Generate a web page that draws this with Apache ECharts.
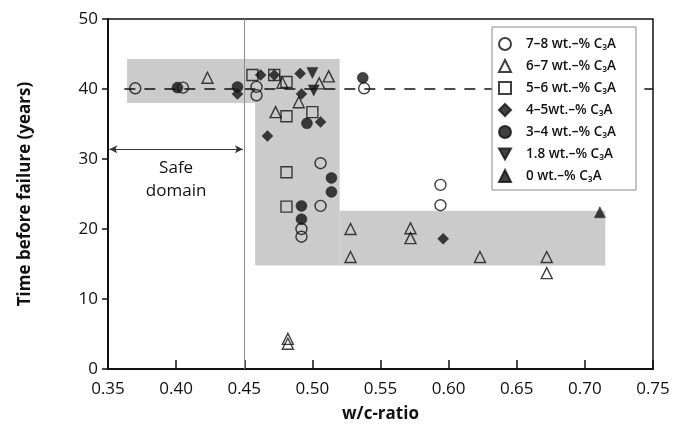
<!DOCTYPE html>
<html>
<head>
<meta charset="utf-8">
<script src="https://cdn.jsdelivr.net/npm/echarts@6/dist/echarts.min.js"></script>
<style>html,body{margin:0;padding:0;background:#fff}#c{width:674px;height:444px}</style>
</head>
<body>
<div id="c"></div>
<script>
// ---- data (w/c-ratio, years) ----
const seriesNames = ['7\u20138 wt.\u2013% C\u2083A','6\u20137 wt.\u2013% C\u2083A','5\u20136 wt.\u2013% C\u2083A','4\u20135wt.\u2013% C\u2083A','3\u20134 wt.\u2013% C\u2083A','1.8 wt.\u2013% C\u2083A','0 wt.\u2013% C\u2083A'];
const c78 = [[0.370,40.1],[0.405,40.2],[0.459,40.3],[0.459,39.1],[0.538,40.1],[0.506,29.4],[0.506,23.3],[0.492,20.0],[0.492,18.9],[0.594,26.3],[0.594,23.4]];
const c67 = [[0.423,41.6],[0.473,36.7],[0.478,40.9],[0.490,38.1],[0.505,40.8],[0.512,41.8],[0.528,20.0],[0.528,16.0],[0.572,20.1],[0.572,18.7],[0.623,16.0],[0.672,16.0],[0.672,13.7],[0.482,4.3],[0.482,3.6]];
const c56 = [[0.456,42.0],[0.472,42.0],[0.481,41.0],[0.481,36.1],[0.500,36.7],[0.481,28.1],[0.481,23.2]];
const c45 = [[0.445,39.3],[0.462,42.0],[0.472,42.0],[0.491,42.2],[0.492,39.3],[0.506,35.3],[0.467,33.3],[0.596,18.6]];
const c34 = [[0.401,40.2],[0.445,40.3],[0.496,35.1],[0.537,41.6],[0.514,27.3],[0.514,25.3],[0.492,23.3],[0.492,21.4]];
const c18 = [[0.500,42.3],[0.501,39.8]];
const c0  = [[0.711,22.4]];
// shaded regions [x1, y1, x2, y2]
const shadeBands = [[0.364,44.3,0.520,38.0],[0.458,38.0,0.520,14.8],[0.520,22.6,0.715,14.8]];
const refLine = [[0.362,40],[0.75,40]];
const safeLimit = 0.45;
const safeArrow = [[0.351,31.4],[0.449,31.4]];
const safeLabelAt = [0.400,27.1];
const xTicks = {min:0.35,max:0.75,step:0.05};
const yTicks = {min:0,max:50,step:10};

const FONT = 'Open Sans';
const INV_TRI = 'path://M0,0 L10,0 L5,9 Z';

function scat(name, data, symbol, filled, size){
  return {
    name, type:'scatter', data, symbol, symbolSize:size, z:5,
    itemStyle: filled ? {color:'#111', borderColor:'#111', borderWidth:0.5}
                      : {color:'transparent', borderColor:'#111', borderWidth:1.4},
    emphasis:{disabled:true}
  };
}

const chart = echarts.init(document.getElementById('c'), null, {renderer:'canvas'});
chart.setOption({
  animation:false,
  backgroundColor:'#fff',
  textStyle:{fontFamily:FONT},
  grid:{left:108,right:21,top:19,bottom:75,show:true,borderColor:'#111',borderWidth:1.5,backgroundColor:'transparent'},
  xAxis:{
    type:'value', min:xTicks.min, max:xTicks.max, interval:xTicks.step,
    name:'w/c-ratio', nameLocation:'middle', nameGap:37,
    nameTextStyle:{fontSize:17,fontWeight:'bold',color:'#111',fontFamily:FONT},
    axisLine:{show:true,lineStyle:{color:'#111',width:2}},
    axisTick:{show:true,inside:true,length:9,lineStyle:{color:'#111',width:1.5}},
    axisLabel:{fontSize:17,color:'#111',margin:12,formatter:v=>v.toFixed(2),fontFamily:FONT},
    splitLine:{show:false}
  },
  yAxis:{
    type:'value', min:yTicks.min, max:yTicks.max, interval:yTicks.step,
    name:'Time before failure (years)', nameLocation:'middle', nameGap:74,
    nameTextStyle:{fontSize:17,fontWeight:'bold',color:'#111',fontFamily:FONT},
    axisLine:{show:true,lineStyle:{color:'#111',width:2}},
    axisTick:{show:true,inside:false,length:6,lineStyle:{color:'#111',width:1.5}},
    axisLabel:{fontSize:17,color:'#111',margin:10,fontFamily:FONT},
    splitLine:{show:false}
  },
  legend:{
    data:seriesNames,
    orient:'vertical', left:492, top:27,
    itemWidth:12, itemHeight:12, itemGap:4,
    padding:[8,20,5,6],
    borderColor:'#8a8a8a', borderWidth:1, backgroundColor:'#fff',
    selectedMode:false,
    textStyle:{fontSize:13.5,fontWeight:600,color:'#111',fontFamily:FONT,padding:[0,0,0,10],lineHeight:18}
  },
  series:[
    {
      name:'_shade', type:'line', data:[], z:1, silent:true,
      markArea:{
        silent:true,
        itemStyle:{color:'#cbcbcb',opacity:1},
        data: shadeBands.map(b=>[{coord:[b[0],b[1]]},{coord:[b[2],b[3]]}])
      },
      markLine:{
        silent:true, symbol:['none','none'], label:{show:false},
        lineStyle:{color:'#8c8c8c',width:1,type:'solid'},
        data:[{xAxis:safeLimit}]
      }
    },
    {
      name:'_arrow', type:'line', data:[], z:2, silent:true,
      markLine:{
        silent:true, symbol:['arrow','arrow'], symbolSize:[6,8], label:{show:false},
        lineStyle:{color:'#333',width:1,type:'solid'},
        data:[[{coord:safeArrow[0]},{coord:safeArrow[1]}]]
      },
      markPoint:{
        silent:true, symbol:'circle', symbolSize:0,
        label:{show:true,position:'inside',formatter:'Safe\ndomain',fontSize:17,lineHeight:23,color:'#111',fontFamily:FONT,fontWeight:500},
        data:[{coord:safeLabelAt}]
      }
    },
    {
      name:'_ref', type:'line', data:refLine, z:3, silent:true, symbol:'none',
      lineStyle:{color:'#111',width:1.5,type:[11,9]}
    },
    scat(seriesNames[0], c78, 'circle', false, 11),
    scat(seriesNames[1], c67, 'triangle', false, 11),
    scat(seriesNames[2], c56, 'rect', false, 11),
    scat(seriesNames[3], c45, 'diamond', true, 11),
    scat(seriesNames[4], c34, 'circle', true, 11),
    scat(seriesNames[5], c18, INV_TRI, true, 11),
    scat(seriesNames[6], c0, 'triangle', true, 11)
  ]
});
</script>
</body>
</html>
